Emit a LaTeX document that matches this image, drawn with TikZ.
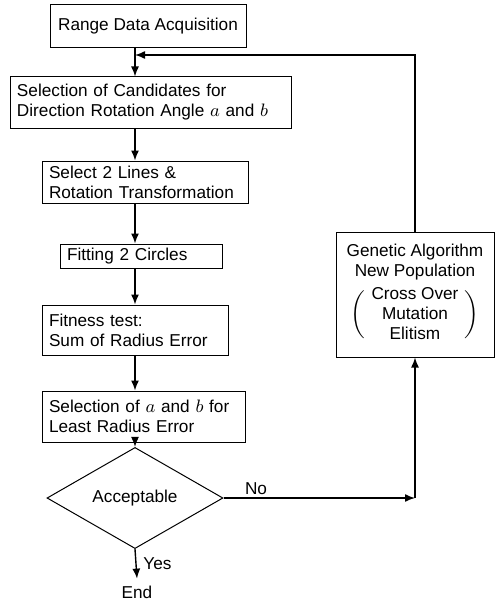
\documentclass[tikz,border=0pt]{standalone}
\usepackage{fontspec}
\setmainfont{Liberation Sans}
\usetikzlibrary{shapes.geometric,arrows.meta,positioning,calc}

\begin{document}
\begin{tikzpicture}[x=0.5pt,y=-0.5pt,
    font=\fontsize{8.6}{10}\selectfont,
    blk/.style={rectangle,draw,line width=0.5pt,inner xsep=3.5pt,inner ysep=1.5pt,align=left},
    flow/.style={-{Latex[length=5pt,width=4pt]},line width=0.7pt}]
    \useasboundingbox (0,0) rectangle (496,599);

    % Acquisition
    \node[blk,align=center,minimum width=98pt,minimum height=21.5pt] (rda) at (148,26.5) {Range Data Acquisition};

    % Candidates
    \node[blk,text width=133.5pt,minimum height=25.5pt] (cand) at (150.5,102.5) {Selection of Candidates for\\Direction Rotation Angle $a$ and $b$};

    % Lines and rotation
    \node[blk,text width=96pt,minimum height=21pt] (lines) at (145,182) {Select 2 Lines \&\\Rotation Transformation};

    % Circles
    \node[blk,text width=74pt,minimum height=12pt] (fit) at (141,256) {Fitting 2 Circles};

    % Fitness
    \node[blk,text width=86pt,minimum height=25pt] (fitt) at (135,330) {Fitness test:\\Sum of Radius Error};

    % Best pair
    \node[blk,text width=94.5pt,minimum height=25.5pt] (sel) at (143.5,416.5) {Selection of $a$ and $b$ for\\Least Radius Error};

    % Decision
    \node[diamond,draw,line width=0.5pt,inner sep=0pt,minimum width=88pt,minimum height=34pt] (acc) at (135,498) {Acceptable};
    \node (end) at (137,592) {End};

    % Genetic algorithm
    \node[blk,align=center,minimum width=79pt,minimum height=62.5pt] (ga) at (415,294.5)
        {Genetic Algorithm\\New Population\\[1.5pt]$\biggl(\begin{tabular}{@{\hspace{3pt}}c@{\hspace{3pt}}}Cross Over\\Mutation\\Elitism\end{tabular}\biggr)$};

    % Arrows
    \draw[flow] (rda.south -| acc) -- (cand.north -| acc);
    \draw[flow] (cand.south -| acc) -- (lines.north -| acc);
    \draw[flow] (lines.south -| acc) -- (fit.north -| acc);
    \draw[flow] (fit.south -| acc) -- (fitt.north -| acc);
    \draw[flow] (fitt.south -| acc) -- (sel.north -| acc);
    \draw[flow] (sel.south -| acc) -- (acc.north);
    \draw[flow] (acc.south) -- (end.north) node[midway,right] {Yes};

    % Loop back
    \coordinate (turn) at (acc.east -| ga.south);
    \coordinate (join) at (135,55);
    \draw[flow] (acc.east) -- (turn) node[pos=0.17,above,inner sep=1.5pt] {No};
    \draw[flow] (turn) -- (ga.south);
    \draw[flow] (ga.north) |- (join);
\end{tikzpicture}
\end{document}
